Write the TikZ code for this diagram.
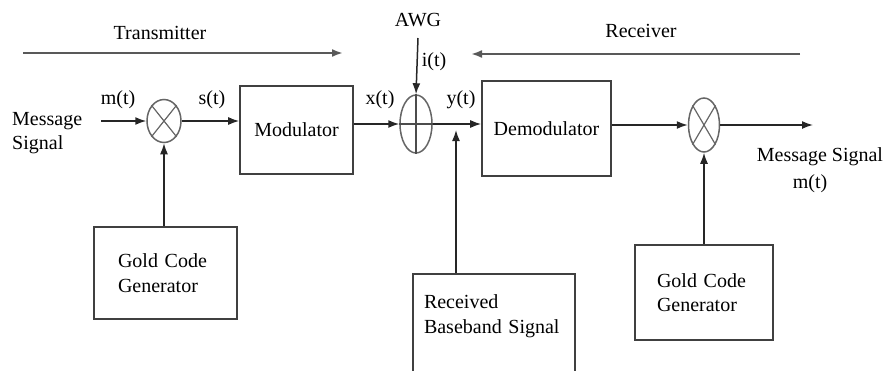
\documentclass[tikz,border=0pt]{standalone}
\usepackage{fontspec}
\setmainfont{Liberation Serif}
\usepackage{tikz}
\usetikzlibrary{positioning,shapes.geometric,arrows.meta}
\tikzset{
	>={Latex[length=11pt,width=8pt]},
	blok/.style={
		rectangle,
		draw=black!75, line width=1.6pt,
		align=left},
	mixer/.style={
		ellipse,
		draw=black!60, line width=1.5pt,
		inner sep=0pt},
	line/.style={draw=black!85, line width=1.5pt, ->},
	sidearrow/.style={draw=black!65, line width=2pt, ->},
	tag/.style={inner sep=0pt},
}

\begin{document}
\begin{tikzpicture}
			[x=1pt, y=-1pt,
			font=\fontsize{20}{24.5}\selectfont]
			\useasboundingbox (0,0) rectangle (887,370);
			% direction arrows on top
			\node[tag] (tx) at (160,33) {Transmitter};
			\coordinate (txa) at (23,53);
			\coordinate (txb) at (343,53);
			\draw[sidearrow] (txa) -- (txb);
			\node[tag] (rx) at (641,31) {Receiver};
			\coordinate (rxa) at (800,54);
			\coordinate (rxb) at (471,54);
			\draw[sidearrow] (rxa) -- (rxb);
			
			% transmitter
			\node[tag, align=left, anchor=west] (msgin) at (12,133) {Message\\Signal};
			\coordinate (min) at (101,121);
			\node[mixer, minimum width=34pt, minimum height=43pt] (m1) at (164,121) {};
			\draw[black!60, line width=1.2pt] (m1.north east) -- (m1.south west) (m1.north west) -- (m1.south east);
			\node[blok, minimum width=113pt, minimum height=88pt] (mod) at (296.5,130) {Modulator};
			\node[blok, text width=95pt, inner xsep=24pt, minimum height=92pt] (g1) at (165.5,273) {Gold Code\\Generator};
			
			% channel
			\node[mixer, minimum width=32pt, minimum height=58pt] (add) at (416,124) {};
			\draw[black!70, line width=1.3pt] (add.north) -- (add.south) (add.west) -- (add.east);
			\node[tag] (awg) at (418,20) {AWG};
			\coordinate (awgin) at (418,38);
			\node[blok, anchor=north, text width=140pt, inner xsep=11pt, inner ysep=21pt, text depth=60pt] (rec) at (494,273) {Received\\Baseband Signal};
			\coordinate (rcv) at (456,124);
			
			% receiver
			\node[blok, minimum width=129pt, minimum height=95pt] (demod) at (546.5,128.5) {Demodulator};
			\node[mixer, minimum width=31pt, minimum height=54pt] (m2) at (704,125) {};
			\draw[black!60, line width=1.2pt] (m2.north east) -- (m2.south west) (m2.north west) -- (m2.south east);
			\node[blok, text width=94pt, inner xsep=22pt, minimum height=95pt] (g2) at (704,292.5) {Gold Code\\Generator};
			\coordinate (mout) at (813,123);
			\node[tag] (msgout) at (820,157) {Message Signal};
			\node[tag] (mtout) at (810,184) {m(t)};
			
			% connectors
			\draw[line] (min) -- (m1.west);
			\draw[line] (m1.east) -- (m1.east -| mod.west);
			\draw[line] (mod.east |- add.west) -- (add.west);
			\draw[line] (awgin) -- (add.north);
			\draw[line] (add.east) -- (add.east -| demod.west);
			\draw[line, shorten >=6pt] (rcv |- rec.north) -- (rcv);
			\draw[line] (demod.east |- m2.west) -- (m2.west);
			\draw[line] (m2.east) -- (m2.east -| mout);
			\draw[line] (m1.south |- g1.north) -- (m1.south);
			\draw[line] (m2.south |- g2.north) -- (m2.south);
			
			% signal names
			\node[tag] (mt) at (118,100) {m(t)};
			\node[tag] (st) at (212,100) {s(t)};
			\node[tag] (xt) at (380,100) {x(t)};
			\node[tag] (yt) at (461,100) {y(t)};
			\node[tag] (it) at (434,62) {i(t)};
			
			\end{tikzpicture}
\end{document}
